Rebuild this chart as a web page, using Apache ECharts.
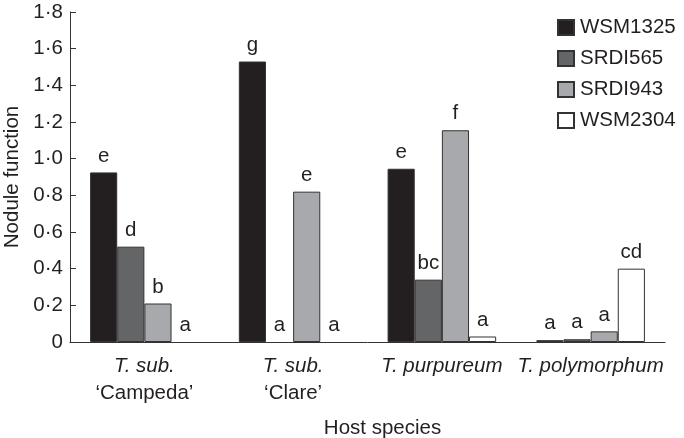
<!DOCTYPE html>
<html>
<head>
<meta charset="utf-8">
<script src="https://cdn.jsdelivr.net/npm/echarts@6/dist/echarts.min.js"></script>
<style>html,body{margin:0;padding:0;background:#fff}#c{width:684px;height:438px}</style>
</head>
<body>
<div id="c"></div>
<script>
var catLine1 = ['T. sub.', 'T. sub.', 'T. purpureum', 'T. polymorphum'];
var catLine2 = ['‘Campeda’', '‘Clare’', '', ''];
var seriesNames = ['WSM1325', 'SRDI565', 'SRDI943', 'WSM2304'];
var WSM1325 = [0.925, 1.53, 0.945, 0.01];
var SRDI565 = [0.52, 0, 0.34, 0.015];
var SRDI943 = [0.21, 0.82, 1.155, 0.058];
var WSM2304 = [0, 0, 0.03, 0.40];
var letters1325 = ['e', 'g', 'e', 'a'];
var letters565 = ['d', 'a', 'bc', 'a'];
var letters943 = ['b', 'e', 'f', 'a'];
var letters2304 = ['a', 'a', 'a', 'cd'];
var yTickLabels = ['0', '0·2', '0·4', '0·6', '0·8', '1·0', '1·2', '1·4', '1·6', '1·8'];

var colors = ['#231f20', '#646567', '#a7a9ac', '#ffffff'];
var values = [WSM1325, SRDI565, SRDI943, WSM2304];
var letters = [letters1325, letters565, letters943, letters2304];
var FONT = 'Liberation Sans, Arial, Helvetica, sans-serif';
var FS = 20.5;
var TXT = '#231f20';

var categories = catLine1.map(function (l1, i) {
  return catLine2[i] ? '{i|' + l1 + '}\n{n|' + catLine2[i] + '}' : '{i|' + l1 + '}';
});

var series = seriesNames.map(function (name, s) {
  return {
    name: name,
    type: 'bar',
    data: values[s].map(function (v) {
      return v === 0 ? { value: v, itemStyle: { borderWidth: 0 } } : v;
    }),
    barGap: '0%',
    barCategoryGap: '27%',
    itemStyle: { color: colors[s], borderColor: '#333333', borderWidth: 1 },
    label: {
      show: true,
      position: 'top',
      distance: 6,
      fontFamily: FONT,
      fontSize: FS,
      color: TXT,
      formatter: function (p) { return letters[s][p.dataIndex]; }
    }
  };
});

var chart = echarts.init(document.getElementById('c'), null, { renderer: 'canvas' });
chart.setOption({
  animation: false,
  textStyle: { fontFamily: FONT, color: TXT },
  grid: { left: 70, right: 19, top: 12, bottom: 96, containLabel: false, outerBoundsMode: 'none' },
  legend: {
    orient: 'vertical',
    left: 552,
    top: 12,
    itemWidth: 16,
    itemHeight: 15,
    itemGap: 10,
    icon: 'rect',
    textStyle: { fontFamily: FONT, fontSize: FS, color: TXT, padding: [0, 0, 0, 1] },
    data: seriesNames
  },
  xAxis: {
    type: 'category',
    data: categories,
    name: 'Host species',
    nameLocation: 'middle',
    nameGap: 76,
    nameTextStyle: { fontFamily: FONT, fontSize: FS, color: TXT, padding: [0, 0, 0, 30] },
    axisLine: { lineStyle: { color: '#333', width: 1 } },
    axisTick: { inside: true, length: 6, lineStyle: { color: '#333' } },
    axisLabel: {
      margin: 11,
      color: TXT,
      rich: {
        i: { fontFamily: FONT, fontSize: FS, fontStyle: 'italic', color: TXT, lineHeight: 27 },
        n: { fontFamily: FONT, fontSize: FS, color: TXT, lineHeight: 27 }
      }
    }
  },
  yAxis: {
    type: 'value',
    min: 0,
    max: 1.8,
    interval: 0.2,
    name: 'Nodule function',
    nameLocation: 'middle',
    nameGap: 46,
    nameTextStyle: { fontFamily: FONT, fontSize: FS, color: TXT },
    axisLine: { show: true, lineStyle: { color: '#333', width: 1 } },
    axisTick: { show: true, inside: true, length: 6, lineStyle: { color: '#333' } },
    splitLine: { show: false },
    axisLabel: {
      margin: 7,
      fontFamily: FONT,
      fontSize: FS,
      color: TXT,
      formatter: function (v) { return yTickLabels[Math.round(v / 0.2)]; }
    }
  },
  series: series
});
</script>
</body>
</html>
